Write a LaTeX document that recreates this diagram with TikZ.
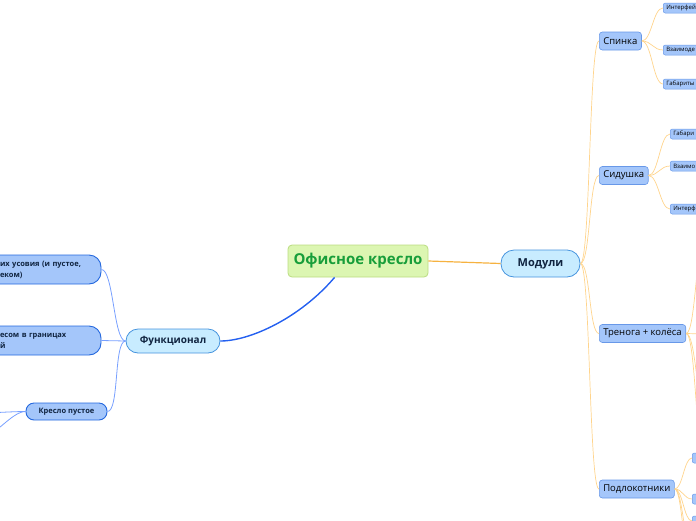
\documentclass[tikz,border=0pt]{standalone}
\usepackage{fontspec}
\setmainfont{Open Sans}
\definecolor{rootback}{RGB}{220,246,178}
\definecolor{rootline}{RGB}{186,220,128}
\definecolor{roottext}{RGB}{24,158,58}
\definecolor{mainback}{RGB}{200,236,255}
\definecolor{mainline}{RGB}{70,148,222}
\definecolor{subback}{RGB}{164,198,250}
\definecolor{subline}{RGB}{104,152,232}
\definecolor{leftline}{RGB}{36,104,222}
\definecolor{darktext}{RGB}{16,36,64}
\definecolor{orangemain}{RGB}{246,178,64}
\definecolor{orangesub}{RGB}{255,212,140}
\definecolor{bluemain}{RGB}{36,96,240}
\definecolor{bluesub}{RGB}{120,160,255}

\begin{document}
\begin{tikzpicture}[x=1pt,y=-1pt,
  rootnode/.style={fill=rootback,draw=rootline,line width=0.8pt,rounded corners=4pt,
    text=roottext,font=\fontsize{15}{18}\selectfont\bfseries,
    minimum width=140pt,minimum height=32pt,inner sep=0pt},
  mainnode/.style={fill=mainback,draw=mainline,line width=0.8pt,
    text=darktext,inner sep=0pt},
  branchnode/.style={fill=subback,draw=subline,line width=0.6pt,rounded corners=3pt,
    font=\fontsize{9.5}{11}\selectfont,anchor=west,inner xsep=4pt,inner ysep=0pt,
    minimum height=18pt},
  leafnode/.style={fill=subback,draw=subline,line width=0.5pt,rounded corners=2pt,
    font=\fontsize{6}{7}\selectfont,anchor=west,text width=60pt,inner xsep=3pt,
    inner ysep=0pt,minimum height=10pt,align=left},
  leftnode/.style={fill=subback,draw=leftline,line width=0.9pt,rounded corners=12pt,
    text=darktext,font=\fontsize{7.5}{11}\selectfont\bfseries,text width=86pt,
    inner xsep=15pt,inner ysep=0pt,minimum height=29pt,align=left},
  orangeedge/.style={draw=orangesub,line width=0.7pt},
  blueedge/.style={draw=bluesub,line width=0.8pt}]
\useasboundingbox (0,0) rectangle (696,520);
\clip (0,0) rectangle (696,520);

% centre
\node [rootnode] (chair) at (358,261) {Офисное кресло};
\node [mainnode,rounded corners=13pt,minimum width=79pt,minimum height=27pt,
  font=\fontsize{11}{13}\selectfont\bfseries] (modules) at (540.5,263.5) {Модули};
\node [mainnode,rounded corners=12pt,minimum width=94pt,minimum height=24pt,
  font=\fontsize{10}{12}\selectfont\bfseries] (func) at (173,341) {Функционал};
\draw [orangemain,line width=1.2pt] (chair.east) -- (modules.west);
\draw [bluemain,line width=1.4pt] (chair.215) .. controls (300,318) and (250,341) .. (func.east);

% modules
\node [branchnode] (back) at (599,41) {Спинка};
\node [branchnode] (seat) at (599,175.5) {Сидушка};
\node [branchnode] (base) at (599,333.5) {Тренога + колёса};
\node [branchnode] (arms) at (599,489) {Подлокотники};
\foreach \n in {back,seat,base,arms}
  \draw [orangeedge] (modules.east) .. controls +(10,0) and +(-10,0) .. (\n.west);

\node [leafnode] (backa) at (663,8) {Интерфей};
\node [leafnode] (backb) at (663,50) {Взаимоде};
\node [leafnode] (backc) at (663,84) {Габариты};
\node [leafnode] (seata) at (670,134) {Габари};
\node [leafnode] (seatb) at (670,166) {Взаимо};
\node [leafnode] (seatc) at (670,209) {Интерф};
\node [leafnode] (armsa) at (692,458) {};
\node [leafnode] (armsb) at (692,499) {};
\node [leafnode] (armsc) at (692,521) {};
\coordinate (basea) at (706,233);
\coordinate (baseb) at (706,334);
\coordinate (basec) at (706,407);
\coordinate (based) at (706,467);
\coordinate (armsd) at (692,548);
\coordinate (armse) at (692,572);
\foreach \n in {backa,backb,backc}
  \draw [orangeedge] (back.east) .. controls +(10,0) and +(-10,0) .. (\n.west);
\foreach \n in {seata,seatb,seatc}
  \draw [orangeedge] (seat.east) .. controls +(10,0) and +(-10,0) .. (\n.west);
\foreach \n in {basea,baseb,basec,based}
  \draw [orangeedge] (base.east) .. controls +(10,0) and +(-10,0) .. (\n);
\foreach \n in {armsa,armsb,armsc}
  \draw [orangeedge] (arms.east) .. controls +(8,0) and +(-8,0) .. (\n.west);
\foreach \n in {armsd,armse}
  \draw [orangeedge] (arms.east) .. controls +(8,0) and +(-8,0) .. (\n);

% functions
\node [leftnode] (load) at (43,269.5) {их усовия (и пустое,\\еком)};
\node [leftnode] (weight) at (43,340.5) {есом в границах\\й};
\node [fill=subback,draw=leftline,line width=0.9pt,rounded corners=8pt,text=darktext,
  font=\fontsize{7.5}{9}\selectfont\bfseries,minimum width=81pt,minimum height=17pt,
  inner sep=0pt] (empty) at (66.5,411.5) {Кресло пустое};
\foreach \n in {load,weight,empty}
  \draw [blueedge] (func.west) .. controls +(-12,0) and +(12,0) .. (\n.east);
\coordinate (emptya) at (-20,413);
\coordinate (emptyb) at (-20,438);
\foreach \n in {emptya,emptyb}
  \draw [blueedge] (empty.west) .. controls +(-14,0) and +(14,0) .. (\n);
\end{tikzpicture}
\end{document}
